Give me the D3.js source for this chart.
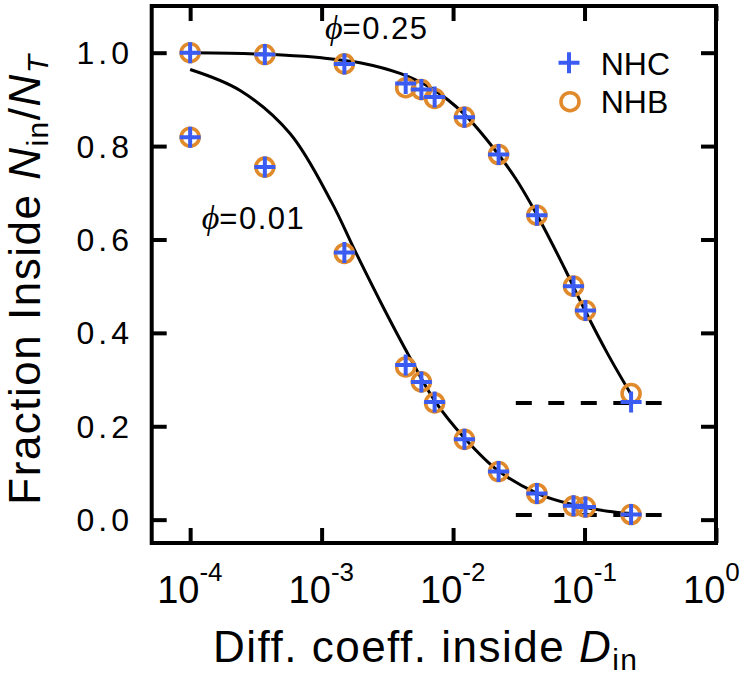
<!DOCTYPE html>
<html><head><meta charset="utf-8">
<script src="https://cdn.jsdelivr.net/npm/d3@7"></script>
<style>body{margin:0;background:#fff}</style>
</head><body><svg id="c" width="756" height="676"></svg>
<script>
// ---- data ----
const diffCoeff = [1e-4, 3.7e-4, 1.49e-3, 4.36e-3, 5.74e-3, 7.24e-3, 0.0122, 0.0222, 0.0434, 0.0824, 0.1016, 0.226];
const nhcPhi025 = [1.0, 0.996, 0.976, 0.934, 0.921, 0.905, 0.862, 0.782, 0.652, 0.500, 0.448, 0.252];
const nhbPhi025 = [1.0, 0.996, 0.976, 0.925, 0.921, 0.902, 0.862, 0.782, 0.652, 0.500, 0.448, 0.270];
const nhcPhi001 = [0.819, 0.755, 0.572, 0.331, 0.295, 0.252, 0.172, 0.103, 0.056, 0.030, 0.027, 0.011];
const nhbPhi001 = [0.819, 0.755, 0.570, 0.327, 0.295, 0.250, 0.172, 0.103, 0.056, 0.029, 0.027, 0.011];
const fitD025 = [1e-4, 2e-4, 5e-4, 1e-3, 2e-3, 4e-3, 7e-3, 0.012, 0.02, 0.03, 0.045, 0.07, 0.1, 0.15, 0.226];
const fitY025 = [1.000, 0.999, 0.995, 0.989, 0.978, 0.955, 0.922, 0.870, 0.798, 0.730, 0.645, 0.540, 0.450, 0.355, 0.268];
const fitD001 = [1e-4, 2.4e-4, 5.75e-4, 1.19e-3, 1.8e-3, 3.03e-3, 4.68e-3, 7.24e-3, 0.0122, 0.022, 0.044, 0.082, 0.15, 0.226];
const fitY001 = [0.964, 0.919, 0.827, 0.680, 0.575, 0.448, 0.348, 0.255, 0.175, 0.105, 0.056, 0.032, 0.018, 0.013];
const asymptoteY = [0.25, 0.01];
const asymptoteD = [0.03, 0.386];
const phiLabels = ["0.25", "0.01"];
const xTickVals = [1e-4, 1e-3, 1e-2, 1e-1, 1e0];
const xTickExp = ["-4", "-3", "-2", "-1", "0"];
const yTickVals = [0, 0.2, 0.4, 0.6, 0.8, 1.0];
const legendNames = ["NHC", "NHB"];

// ---- layout ----
const svg = d3.select("#c");
const L = 151.7, R = 716, T = 6, B = 543;
const x = d3.scaleLog().domain([5.1e-5, 1.0]).range([L, R]);
const y = d3.scaleLinear().domain([-0.05, 1.1]).range([B, T]);
const blue = "#3a5cf2", orange = "#e08a2c";
const sans = "'Liberation Sans', Arial, sans-serif";

// axes (inward ticks)
const tickLen = 15;
function styleAxis(g) {
  g.select(".domain").remove();
  g.selectAll("line").attr("stroke", "#000").attr("stroke-width", 4);
  g.selectAll("text").remove();
}
svg.append("g").attr("transform", `translate(0,${B})`)
  .call(d3.axisBottom(x).tickValues(xTickVals).tickSize(-tickLen)).call(styleAxis);
svg.append("g").attr("transform", `translate(0,${T})`)
  .call(d3.axisTop(x).tickValues(xTickVals).tickSize(-tickLen)).call(styleAxis);
svg.append("g").attr("transform", `translate(${L},0)`)
  .call(d3.axisLeft(y).tickValues(yTickVals).tickSize(-tickLen)).call(styleAxis);
svg.append("g").attr("transform", `translate(${R},0)`)
  .call(d3.axisRight(y).tickValues(yTickVals).tickSize(-tickLen)).call(styleAxis);

// frame
svg.append("rect").attr("x", L).attr("y", T).attr("width", R - L).attr("height", B - T)
  .attr("fill", "none").attr("stroke", "#000").attr("stroke-width", 4);

// y tick labels
svg.append("g").selectAll("text").data(yTickVals).join("text")
  .attr("x", 133).attr("y", d => y(d) + 11.5)
  .attr("text-anchor", "end").attr("font-family", sans).attr("font-size", 32)
  .attr("letter-spacing", 4)
  .text(d => d.toFixed(1));

// x tick labels
xTickVals.forEach((v, i) => {
  const t = svg.append("text").attr("x", x(v) - 33).attr("y", 602.7)
    .attr("font-family", sans).attr("font-size", 38);
  t.append("tspan").text("10");
  t.append("tspan").attr("dy", -22).attr("font-size", 26).text(xTickExp[i]);
});

// x title
const xt = svg.append("text").attr("x", 213).attr("y", 661.7)
  .attr("font-family", sans).attr("font-size", 44).attr("letter-spacing", 1.5);
xt.append("tspan").text("Diff. coeff. inside ");
xt.append("tspan").attr("font-style", "italic").text("D");
xt.append("tspan").attr("font-size", 30).attr("dy", 8).text("in");

// y title
const yt = svg.append("text").attr("transform", "translate(40,279) rotate(-90)")
  .attr("text-anchor", "middle").attr("font-family", sans).attr("font-size", 44).attr("letter-spacing", 1.5);
yt.append("tspan").text("Fraction Inside ");
yt.append("tspan").attr("font-style", "italic").text("N");
yt.append("tspan").attr("font-size", 30).attr("dy", 8).text("in");
yt.append("tspan").attr("dy", -8).text("/");
yt.append("tspan").attr("font-style", "italic").text("N");
yt.append("tspan").attr("font-size", 30).attr("font-style", "italic").attr("dy", 8).text("T");

// fit curves
const line = d3.line().x(d => x(d[0])).y(d => y(d[1])).curve(d3.curveCatmullRom.alpha(0.5));
[[fitD025, fitY025], [fitD001, fitY001]].forEach(([ds, ys]) => {
  svg.append("path").datum(ds.map((d, i) => [d, ys[i]]))
    .attr("d", line).attr("fill", "none").attr("stroke", "#000").attr("stroke-width", 3);
});

// dashed asymptotes
asymptoteY.forEach(a => {
  svg.append("line").attr("x1", x(asymptoteD[0])).attr("x2", x(asymptoteD[1]))
    .attr("y1", y(a)).attr("y2", y(a)).attr("stroke", "#000").attr("stroke-width", 4)
    .attr("stroke-dasharray", "16,16.5");
});

// markers
const crossPath = "M-10.5,0H10.5M0,-10.5V10.5";
[nhbPhi025, nhbPhi001].forEach(ys => {
  svg.append("g").selectAll("circle").data(diffCoeff).join("circle")
    .attr("cx", d => x(d)).attr("cy", (d, i) => y(ys[i])).attr("r", 9)
    .attr("fill", "none").attr("stroke", orange).attr("stroke-width", 3.6);
});
[nhcPhi025, nhcPhi001].forEach(ys => {
  svg.append("g").selectAll("path").data(diffCoeff).join("path")
    .attr("transform", (d, i) => `translate(${x(d)},${y(ys[i])})`)
    .attr("d", crossPath).attr("stroke", blue).attr("stroke-width", 4).attr("fill", "none");
});

// phi labels
[[325, 39], [201.7, 229]].forEach((p, i) => {
  const t = svg.append("text").attr("x", p[0]).attr("y", p[1]).attr("font-family", sans).attr("font-size", 31);
  t.append("tspan").attr("font-family", "'Liberation Serif', serif").attr("font-style", "italic").attr("font-size", 34).text("ϕ");
  t.append("tspan").attr("letter-spacing", 1.5).text("=" + phiLabels[i]);
});

// legend
svg.append("path").attr("transform", "translate(569,62.7)").attr("d", crossPath)
  .attr("stroke", blue).attr("stroke-width", 4);
svg.append("circle").attr("cx", 570).attr("cy", 101.7).attr("r", 9)
  .attr("fill", "none").attr("stroke", orange).attr("stroke-width", 3.6);
legendNames.forEach((n, i) => {
  svg.append("text").attr("x", 600.7).attr("y", 75 + i * 37.7)
    .attr("font-family", sans).attr("font-size", 32).text(n);
});
</script></body></html>
